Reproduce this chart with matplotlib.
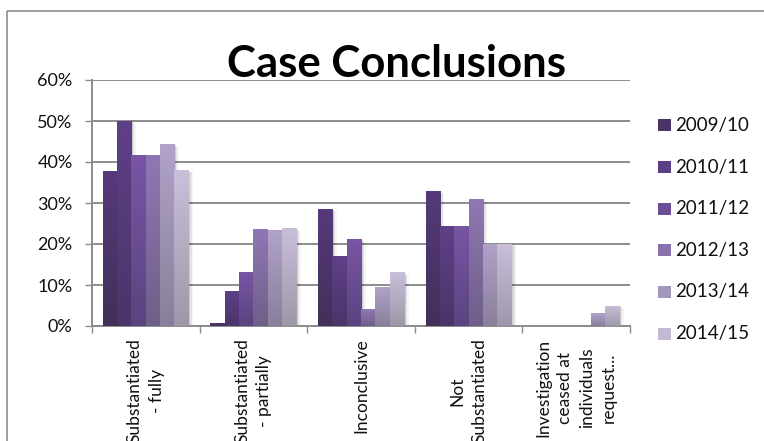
import numpy as np
import matplotlib
matplotlib.use("Agg")
from matplotlib import pyplot as plt
from matplotlib.patches import Rectangle
from matplotlib.lines import Line2D
from matplotlib.colors import LinearSegmentedColormap
from matplotlib import transforms

# categories and yearly shares (fractions)
categorias = ["Substantiated\n- fully", "Substantiated\n- partially", "Inconclusive",
              "Not\nSubstantiated", "Investigation\nceased at\nindividuals\nrequest..."]
anos = ["2009/10", "2010/11", "2011/12", "2012/13", "2013/14", "2014/15"]

v_2009 = [0.377, 0.008, 0.285, 0.329, 0.0]
v_2010 = [0.501, 0.085, 0.170, 0.243, 0.0]
v_2011 = [0.416, 0.131, 0.211, 0.243, 0.0]
v_2012 = [0.416, 0.236, 0.041, 0.309, 0.0]
v_2013 = [0.443, 0.233, 0.094, 0.201, 0.031]
v_2014 = [0.380, 0.238, 0.131, 0.201, 0.050]
valores = [v_2009, v_2010, v_2011, v_2012, v_2013, v_2014]

# gradient colours (top, bottom) per year
cor_topo = ["#56397a", "#5f4088", "#7955a4", "#9077b3", "#b0a2c9", "#c9bfd9"]
cor_base = ["#42305a", "#4a3468", "#5a4480", "#6e5f88", "#8a7f9b", "#9e97a8"]
cor_legenda = ["#4a3366", "#5b3f84", "#6d4c98", "#8a73ad", "#a596bd", "#c3b9d4"]

plt.rcParams['font.family'] = ['Lato', 'DejaVu Sans']

W, H = 764, 441
fig = plt.figure(figsize=(W / 100, H / 100), dpi=100, facecolor="white")
ax = fig.add_axes([92 / W, 1 - 326 / H, (630 - 92) / W, (326 - 80) / H])

n = len(anos)
x = np.arange(len(categorias))
largura = 0.8 / n

for i in range(n):
    pos = x + (i - (n - 1) / 2) * largura
    barras = ax.bar(pos, valores[i], largura, color=cor_topo[i], zorder=3, linewidth=0)
    cmap = LinearSegmentedColormap.from_list("g%d" % i, [cor_base[i], cor_topo[i]])
    for b in barras:
        h = b.get_height()
        if h <= 0:
            continue
        x0 = b.get_x()
        # soft shadow to the right
        for k, a in zip([1.5, 3, 4.5], [0.10, 0.07, 0.04]):
            off = transforms.ScaledTranslation(k / 100, -k / 200, fig.dpi_scale_trans)
            ax.add_patch(Rectangle((x0, 0), b.get_width(), h, transform=ax.transData + off,
                                   facecolor="#000000", alpha=a, linewidth=0, zorder=2))
        grad = np.linspace(0, 1, 64).reshape(-1, 1)
        im = ax.imshow(grad, extent=[x0, x0 + b.get_width(), 0, h], origin="lower",
                       aspect="auto", cmap=cmap, zorder=4)
        im.set_clip_path(b)

ax.set_xlim(-0.5, len(categorias) - 0.5)
ax.set_ylim(0, 0.6)
ax.set_yticks(np.arange(0, 0.61, 0.1))
ax.set_yticklabels(["%d%%" % round(t * 100) for t in np.arange(0, 0.61, 0.1)])
ax.yaxis.grid(True, color="#8c8c8c", linewidth=1.4, zorder=1)
ax.set_axisbelow(True)

for lado in ["top", "right"]:
    ax.spines[lado].set_visible(False)
for lado in ["left", "bottom"]:
    ax.spines[lado].set_color("#8c8c8c")
    ax.spines[lado].set_linewidth(1.4)

ax.tick_params(axis="y", length=5, width=1, color="#8c8c8c", pad=9, labelsize=13,
               labelcolor="#111111")
ax.set_xticks([])
ax.set_xticks(np.arange(-0.5, len(categorias)), minor=True)
ax.tick_params(axis="x", which="minor", length=5, width=1, color="#8c8c8c")

for xi, cat in zip(x, categorias):
    ax.annotate(cat, xy=(xi, 0), xycoords=("data", "axes fraction"),
                xytext=(0, -9), textcoords="offset points", rotation=90,
                ha="center", va="top", multialignment="center",
                fontsize=12.5, linespacing=1.45, color="#111111")

# title
fig.text(396 / W, 1 - 77 / H, "Case Conclusions", ha="center", va="baseline",
         fontsize=31.5, fontweight="bold", color="#000000")

# legend
for i, ano in enumerate(anos):
    yc = 125.5 + i * 41.6
    fig.patches.append(Rectangle((658 / W, 1 - (yc + 6) / H), 13 / W, 12 / H,
                                 transform=fig.transFigure, facecolor=cor_legenda[i],
                                 linewidth=0))
    fig.text(675 / W, 1 - yc / H, ano, ha="left", va="center", fontsize=13.5,
             color="#111111")

# chart border (top and left edges, running off the canvas)
fig.add_artist(Line2D([7 / W, 1.05], [1 - 11 / H, 1 - 11 / H], transform=fig.transFigure,
                      color="#8c8c8c", linewidth=1.2, solid_capstyle="butt"))
fig.add_artist(Line2D([7 / W, 7 / W], [-0.05, 1 - 11 / H], transform=fig.transFigure,
                      color="#8c8c8c", linewidth=1.2, solid_capstyle="butt"))

fig.savefig("out.png", dpi=100, facecolor="white")
